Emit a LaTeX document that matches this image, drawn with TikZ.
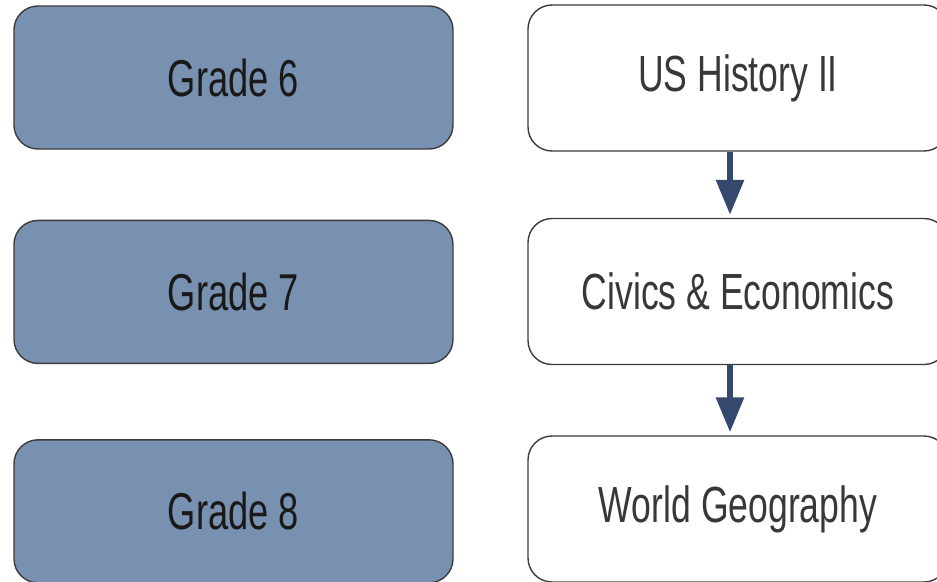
\documentclass[tikz,border=0pt]{standalone}
\usepackage{fontspec}
\setmainfont{Liberation Sans}[FakeStretch=0.7]
\usepackage{tikz}
\usetikzlibrary{positioning,arrows.meta}
\usepackage{xcolor}
\definecolor{gradefill}{HTML}{7891B0}
\definecolor{boxline}{HTML}{3C3C3C}
\definecolor{flowblue}{HTML}{34496D}

\begin{document}
\begin{tikzpicture}[%
    node distance=72bp and 75bp,
    grade/.style={%
      rectangle,rounded corners=24bp,draw=boxline,line width=1.4bp,fill=gradefill,
      minimum width=439bp,minimum height=143bp,text=black!90,
      font=\fontsize{52}{60}\selectfont},
    course/.style={%
      rectangle,rounded corners=24bp,draw=boxline,line width=1.4bp,fill=white,
      minimum width=420bp,minimum height=146bp,text=black!78,
      font=\fontsize{51}{60}\selectfont},
    flow/.style={%
      draw=flowblue,line width=6bp,-{Triangle[length=35bp,width=27bp]},shorten >=3bp}
  ]
    \useasboundingbox (0,0) rectangle (937bp,-582bp);
    \clip (0,0) rectangle (937bp,-582bp);
    \node[grade] (g6) at (233.5bp,-77.5bp)          {Grade 6};
    \node[grade] (g7) [below=70bp of g6]            {Grade 7};
    \node[grade] (g8) [below=75bp of g7]            {Grade 8};
    \node[course] (ush) at (738bp,-78bp)            {US History II};
    \node[course] (civ) at (738bp,-291.5bp)         {Civics \& Economics};
    \node[course] (geo) at (738bp,-509bp)           {World Geography};
    \path[flow] ([xshift=-8bp]ush.south) -- ([xshift=-8bp]civ.north);
    \path[flow] ([xshift=-8bp]civ.south) -- ([xshift=-8bp]geo.north);
  \end{tikzpicture}
\end{document}
